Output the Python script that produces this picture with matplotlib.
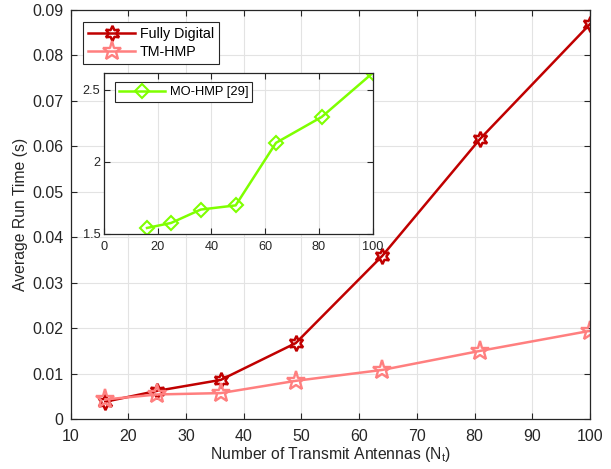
import matplotlib
import numpy as np

matplotlib.use('Agg')
from matplotlib import pyplot as plt

plt.rcParams['font.family'] = ['Liberation Sans', 'DejaVu Sans']

# number of transmit antennas
n_t = [16, 25, 36, 49, 64, 81, 100]

# average run time (s)
fully_digital = [0.0038, 0.0062, 0.0086, 0.0167, 0.0359, 0.0617, 0.0869]
tm_hmp = [0.0043, 0.0054, 0.0057, 0.0084, 0.0108, 0.0150, 0.0194]
mo_hmp = [1.54, 1.575, 1.668, 1.697, 2.132, 2.312, 2.618]

main_xticks = [10, 20, 30, 40, 50, 60, 70, 80, 90, 100]
main_yticks = [0, 0.01, 0.02, 0.03, 0.04, 0.05, 0.06, 0.07, 0.08, 0.09]
main_yticklabels = ['0', '0.01', '0.02', '0.03', '0.04', '0.05', '0.06', '0.07', '0.08', '0.09']
inset_xticks = [0, 20, 40, 60, 80, 100]
inset_yticks = [1.5, 2, 2.5]

c_fd = '#c00000'
c_tm = '#ff7f7f'
c_mo = '#7fff00'


def style_axes(ax, size):
    ax.grid(True, color='#e3e3e3', linewidth=0.8)
    ax.set_axisbelow(True)
    ax.tick_params(direction='in', top=True, right=True, labelsize=size,
                   colors='#262626', length=4, width=0.8)
    for sp in ax.spines.values():
        sp.set_color('#262626')
        sp.set_linewidth(0.9)


fig = plt.figure(figsize=(6.11, 4.69), dpi=100)
ax = fig.add_axes([0.1157, 0.1066, 0.8499, 0.8721])

star6 = (6, 1, 0)
ax.plot(n_t, fully_digital, color=c_fd, linewidth=1.8, marker=star6,
        markersize=11, markerfacecolor='none', markeredgewidth=1.8,
        label='Fully Digital')
ax.plot(n_t, tm_hmp, color=c_tm, linewidth=1.8, marker='*',
        markersize=14, markerfacecolor='none', markeredgewidth=1.7,
        label='TM-HMP')

ax.set_xlim(10, 100)
ax.set_ylim(0, 0.09)
ax.set_xticks(main_xticks)
ax.set_yticks(main_yticks)
ax.set_yticklabels(main_yticklabels)
style_axes(ax, 11.5)
ax.tick_params(axis='x', pad=7)
ax.tick_params(axis='y', pad=5)
ax.set_xlabel('Number of Transmit Antennas (N$_\\mathregular{t}$)',
              fontsize=11.3, color='#262626', labelpad=1)
ax.set_ylabel('Average Run Time (s)', fontsize=11.3, color='#262626',
              labelpad=3)
leg = ax.legend(loc='upper left', bbox_to_anchor=(0.024, 0.97),
                fontsize=10.3, fancybox=False, framealpha=1,
                edgecolor='#262626', handlelength=3.3, borderpad=0.35,
                labelspacing=0.25, handletextpad=0.3, borderaxespad=0)
leg.get_frame().set_linewidth(0.8)

# inset with the much slower MO-HMP baseline
axin = fig.add_axes([0.1702, 0.5017, 0.4398, 0.3433])
axin.plot(n_t, mo_hmp, color=c_mo, linewidth=1.8, marker='D',
          markersize=7, markerfacecolor='none', markeredgewidth=1.5,
          label='MO-HMP [29]')
axin.set_xlim(0, 100)
axin.set_ylim(1.5, 2.62)
axin.set_xticks(inset_xticks)
axin.set_yticks(inset_yticks)
axin.set_yticklabels(['1.5', '2', '2.5'])
style_axes(axin, 9.2)
axin.tick_params(axis='x', pad=5.5)
axin.tick_params(axis='y', pad=2.5)
leg2 = axin.legend(loc='upper left', bbox_to_anchor=(0.04, 0.94),
                   fontsize=9.3, fancybox=False, framealpha=1,
                   edgecolor='#262626', handlelength=3.6, borderpad=0.3,
                   handletextpad=0.35, borderaxespad=0)
leg2.get_frame().set_linewidth(0.8)

fig.savefig('out.png', dpi=100)
